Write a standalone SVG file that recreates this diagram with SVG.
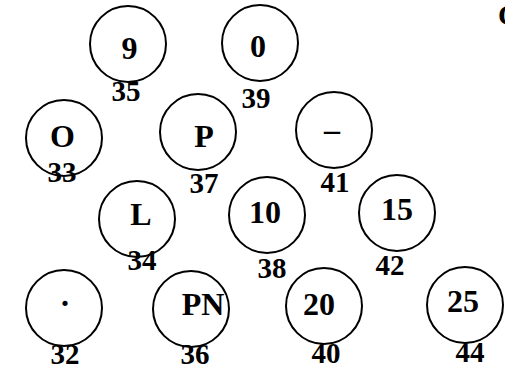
<svg xmlns="http://www.w3.org/2000/svg" width="505" height="369" viewBox="0 0 505 369">
<style>
.c{fill:none;stroke:#000;stroke-width:2}
.t{font-family:"Liberation Serif","DejaVu Serif",serif;font-weight:bold;font-size:32px;text-anchor:middle;fill:#000}
.n{font-family:"Liberation Serif","DejaVu Serif",serif;font-weight:bold;font-size:29px;text-anchor:middle;fill:#000}
</style>
<rect width="505" height="369" fill="#fff"/>
<g id="connectors"/>
<g id="k35"><circle class="c" cx="128" cy="44" r="38"/><text class="t" x="129.5" y="59">9</text><text class="n" x="126" y="101">35</text></g>
<g id="k39"><circle class="c" cx="260" cy="43" r="38"/><text class="t" x="258" y="57">0</text><text class="n" x="256" y="108">39</text></g>
<g id="k33"><circle class="c" cx="64" cy="138" r="38"/><text class="t" x="62.5" y="147">O</text><text class="n" x="62" y="182">33</text></g>
<g id="k37"><circle class="c" cx="198" cy="132" r="38"/><text class="t" x="204" y="147">P</text><text class="n" x="204" y="193">37</text></g>
<g id="k41"><circle class="c" cx="334" cy="130" r="38"/><text class="t" x="332" y="140">–</text><text class="n" x="335" y="192">41</text></g>
<g id="k34"><circle class="c" cx="137" cy="219" r="38"/><text class="t" x="141" y="225">L</text><text class="n" x="142" y="270">34</text></g>
<g id="k38"><circle class="c" cx="267" cy="215" r="38"/><text class="t" x="265" y="223">10</text><text class="n" x="272" y="278">38</text></g>
<g id="k42"><circle class="c" cx="397" cy="213" r="38"/><text class="t" x="397" y="220">15</text><text class="n" x="390" y="275">42</text></g>
<g id="k32"><circle class="c" cx="64" cy="308" r="38"/><text class="t" x="65" y="306">.</text><text class="n" x="65" y="364">32</text></g>
<g id="k36"><circle class="c" cx="191" cy="309" r="38"/><text class="t" x="203" y="315">PN</text><text class="n" x="195" y="364">36</text></g>
<g id="k40"><circle class="c" cx="324" cy="306" r="38"/><text class="t" x="319" y="315">20</text><text class="n" x="326" y="363">40</text></g>
<g id="k44"><circle class="c" cx="465" cy="305" r="38"/><text class="t" x="463" y="312">25</text><text class="n" x="470" y="362">44</text></g>
<text class="n" x="498" y="25" style="text-anchor:start">C</text>
</svg>
